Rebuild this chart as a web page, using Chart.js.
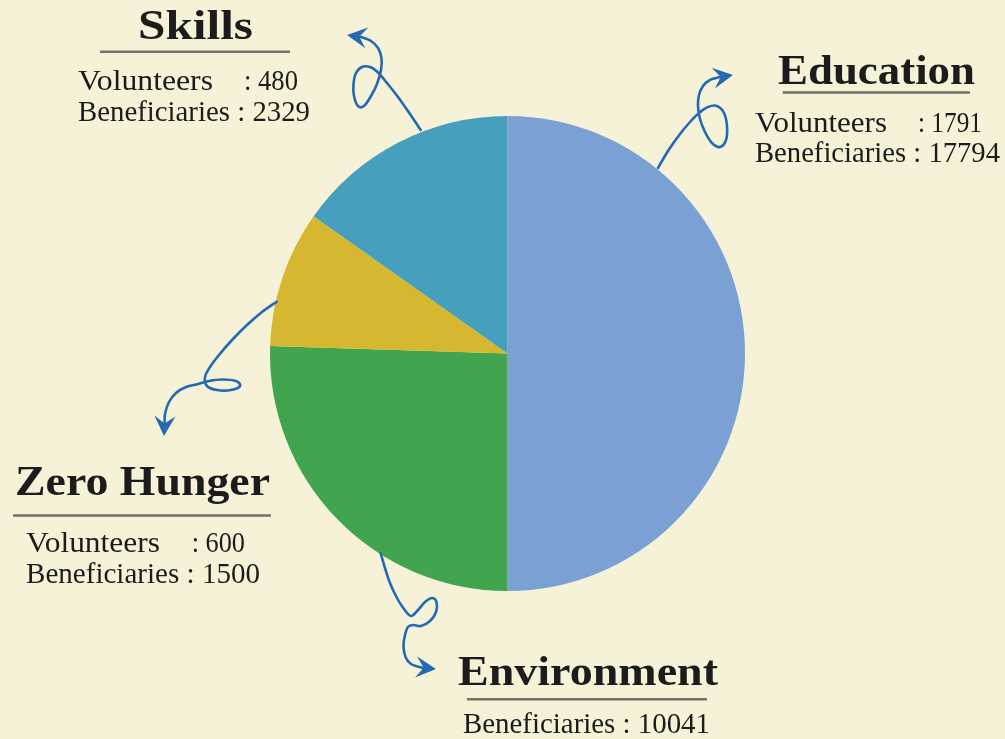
<!DOCTYPE html>
<html>
<head>
<meta charset="utf-8">
<script src="https://cdn.jsdelivr.net/npm/chart.js@4/dist/chart.umd.min.js"></script>
<style>
  html, body { margin: 0; padding: 0; background: #F5F2D7; }
  #wrap { width: 1005px; height: 739px; }
</style>
</head>
<body>
<div id="wrap"><canvas id="c" width="1005" height="739"></canvas></div>
<script>
// ---- data ----
const categories    = ['Education', 'Environment', 'Zero Hunger', 'Skills'];
const shareValues   = [50, 25.5, 9.3, 15.2];           // slice share (%)
const volunteers    = [1791, null, 600, 480];
const beneficiaries = [17794, 10041, 1500, 2329];
const sliceColors   = ['#7BA0D4', '#41A44E', '#D5B830', '#46A0BD'];

// ---- annotation layout (decoration only) ----
const BG = '#F5F2D7';
const TEXT = '#1c1c1c';
const RULE = '#72716a';
const ARROW = '#2369B3';

const labelLayout = {
  'Skills': {
    head: [138, 253, 38.5], rule: [100, 290, 51.7],
    vol: [78, 213, 89.5, 244, 298], ben: [78, 310, 120.7]
  },
  'Education': {
    head: [778, 975, 83.5], rule: [782.7, 970, 92.5],
    vol: [755, 887, 131.5, 918, 982], ben: [755, 1000, 161.7]
  },
  'Zero Hunger': {
    head: [15, 270, 495], rule: [13, 271, 515.5],
    vol: [26, 160, 551.5, 191.7, 245], ben: [26, 260, 583]
  },
  'Environment': {
    head: [458, 718, 685], rule: [467, 707, 699.3],
    vol: null, ben: [463, 710, 732.7]
  }
};

// curly arrow paths (decoration), given for a pie centred at PIE_REF_CENTER
const arrowPaths = {
  'Skills': [[420.7,130],[410,114],[398,97],[387,83],[378,72.5],[370,67],[362,67],[356,73],[353.5,84],[354,96],[358,106],[364,106],[371,96],[377,84],[381,70],[381.5,58],[378,48],[371,41],[361,37],[347,35]],
  'Education': [[658,168],[668,151],[680,134],[690,122],[699,113],[708,107],[717,106],[724,113],[727,126],[726,140],[720,147],[712,143],[705,132],[700,119],[698,106],[699,95],[703,86],[710,80],[720,77],[733,75]],
  'Zero Hunger': [[276.7,301.7],[262,312],[247,325],[232,340],[219,355],[210,367],[205,377],[207,386],[217,390],[231,390],[240,386],[236,381],[222,379.5],[209,381],[198,384],[186,387],[176,393],[169,402],[165,414],[164,436]],
  'Environment': [[380.7,553.3],[385,568],[390,583],[397,598],[404,609],[411,616],[418,610],[425,602],[432,598],[436.5,602],[436,612],[430,621],[421,626],[413,625],[408,627],[405,635],[403.5,646],[405.5,657],[411,664],[421,667.5],[436,669]]
};
const PIE_REF_CENTER = [507.5, 353.5];

function fitText(ctx, text, left, right, baseline, font) {
  ctx.save();
  ctx.font = font;
  ctx.textAlign = 'left';
  ctx.textBaseline = 'alphabetic';
  const w = ctx.measureText(text).width;
  const s = (right - left) / w;
  ctx.translate(left, baseline);
  ctx.scale(s, 1);
  ctx.fillText(text, 0, 0);
  ctx.restore();
}

function drawArrow(ctx, pts) {
  const n = pts.length;
  const tip = pts[n - 1];
  const prev = pts[n - 2];
  let dx = tip[0] - prev[0], dy = tip[1] - prev[1];
  const L = Math.hypot(dx, dy); dx /= L; dy /= L;
  const headLen = 20, headHalf = 10.5;
  const notch = [tip[0] - dx * headLen * 0.62, tip[1] - dy * headLen * 0.62];
  const p = pts.slice(0, n - 1).concat([notch]);
  ctx.save();
  ctx.strokeStyle = ARROW;
  ctx.lineWidth = 2.6;
  ctx.lineCap = 'round';
  ctx.lineJoin = 'round';
  ctx.beginPath();
  ctx.moveTo(p[0][0], p[0][1]);
  for (let i = 0; i < p.length - 1; i++) {
    const p0 = p[i - 1] || p[i], p1 = p[i], p2 = p[i + 1], p3 = p[i + 2] || p[i + 1];
    const c1x = p1[0] + (p2[0] - p0[0]) / 6, c1y = p1[1] + (p2[1] - p0[1]) / 6;
    const c2x = p2[0] - (p3[0] - p1[0]) / 6, c2y = p2[1] - (p3[1] - p1[1]) / 6;
    ctx.bezierCurveTo(c1x, c1y, c2x, c2y, p2[0], p2[1]);
  }
  ctx.stroke();
  const bx = tip[0] - dx * headLen, by = tip[1] - dy * headLen;
  const nx = -dy, ny = dx;
  ctx.fillStyle = ARROW;
  ctx.beginPath();
  ctx.moveTo(tip[0], tip[1]);
  ctx.lineTo(bx + nx * headHalf, by + ny * headHalf);
  ctx.lineTo(notch[0], notch[1]);
  ctx.lineTo(bx - nx * headHalf, by - ny * headHalf);
  ctx.closePath();
  ctx.fill();
  ctx.restore();
}

const bgPlugin = {
  id: 'bg',
  beforeDraw(chart) {
    const ctx = chart.ctx;
    ctx.save();
    ctx.fillStyle = BG;
    ctx.fillRect(0, 0, chart.width, chart.height);
    ctx.restore();
  }
};

const annotPlugin = {
  id: 'annot',
  afterDraw(chart) {
    const ctx = chart.ctx;
    const arc = chart.getDatasetMeta(0).data[0];
    const ox = arc.x - PIE_REF_CENTER[0], oy = arc.y - PIE_REF_CENTER[1];
    categories.forEach((cat, i) => {
      const lay = labelLayout[cat];
      ctx.fillStyle = TEXT;
      fitText(ctx, cat, lay.head[0], lay.head[1], lay.head[2], 'bold 42px "Liberation Serif"');
      ctx.save();
      ctx.strokeStyle = RULE;
      ctx.lineWidth = 2.4;
      ctx.beginPath();
      ctx.moveTo(lay.rule[0], lay.rule[2]);
      ctx.lineTo(lay.rule[1], lay.rule[2]);
      ctx.stroke();
      ctx.restore();
      ctx.fillStyle = TEXT;
      const bodyFont = '30px "Liberation Serif"';
      if (lay.vol && volunteers[i] != null) {
        fitText(ctx, 'Volunteers', lay.vol[0], lay.vol[1], lay.vol[2], bodyFont);
        fitText(ctx, ': ' + volunteers[i], lay.vol[3], lay.vol[4], lay.vol[2], bodyFont);
      }
      fitText(ctx, 'Beneficiaries : ' + beneficiaries[i], lay.ben[0], lay.ben[1], lay.ben[2], bodyFont);
      const pts = arrowPaths[cat].map(q => [q[0] + ox, q[1] + oy]);
      drawArrow(ctx, pts);
    });
  }
};

new Chart(document.getElementById('c'), {
  type: 'pie',
  data: {
    labels: categories,
    datasets: [{
      data: shareValues,
      backgroundColor: sliceColors,
      borderWidth: 0
    }]
  },
  options: {
    responsive: false,
    animation: false,
    layout: { padding: { left: 270, right: 260, top: 116, bottom: 148 } },
    plugins: {
      legend: { display: false },
      tooltip: { enabled: false }
    }
  },
  plugins: [bgPlugin, annotPlugin]
});
</script>
</body>
</html>
